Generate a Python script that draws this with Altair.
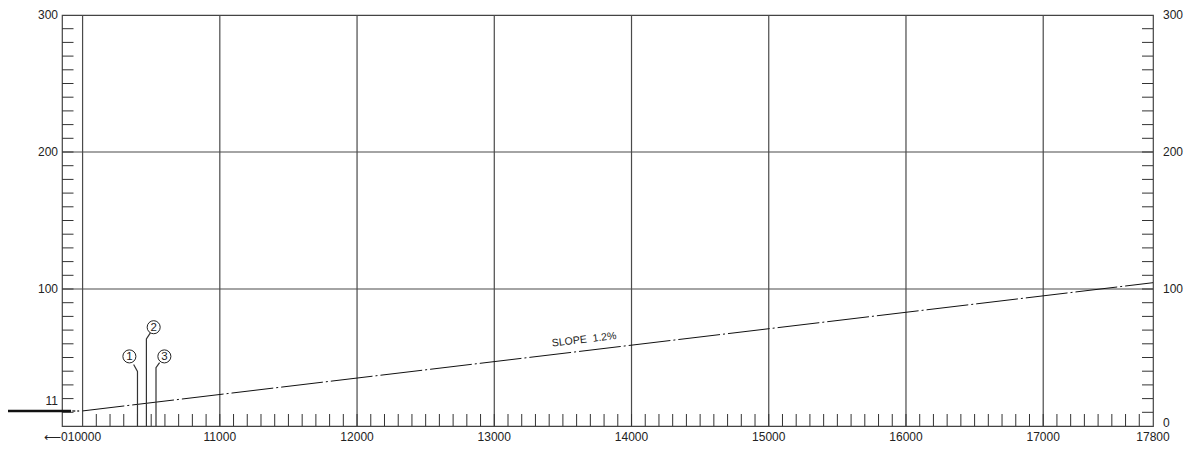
import altair as alt
import pandas as pd

# ---- data ----
x_grid = [10000, 11000, 12000, 13000, 14000, 15000, 16000, 17000]
x_label_values = [11000, 12000, 13000, 14000, 15000, 16000, 17000, 17800]
x_labels = ["11000", "12000", "13000", "14000", "15000", "16000", "17000", "17800"]
x_first_value = [10000]
x_first_label = ["⟵010000"]
x_minor = list(range(10100, 17800, 100))

y_grid = [100, 200]
y_minor = list(range(10, 300, 10))
y_left_values = [100, 200, 300]
y_right_values = [100, 200, 300]
y_right_zero = [0]

# design profile: slope 1.2 % from chainage 10000 (elevation 11)
slope_x = [10000, 17800]
slope_y = [11, 104.6]
exist_x = [9440, 9916]
exist_y = [11, 11]
stub_x = [9925, 9975]
stub_y = [11, 11]
start_elev_label = ["11"]
start_elev_value = [11]

# callouts 1-3 with leader lines
callout_id = ["1", "2", "3"]
callout_x = [10341, 10518, 10596]
callout_y = [50.8, 72.1, 50.8]
leader_id = ["1", "1", "1", "2", "2", "2", "3", "3", "3"]
leader_order = [0, 1, 2, 0, 1, 2, 0, 1, 2]
leader_x = [10372, 10400, 10400, 10494, 10465, 10465, 10561, 10535, 10535]
leader_y = [44.9, 39.8, 0, 68.0, 63.6, 0, 46.2, 42.5, 0]

slope_label = ["SLOPE\u00a0\u00a01.2%"]
slope_label_x = [13655]
slope_label_y = [63.0]

# ---- chart ----
W, H = 1091, 411
FONT = "Liberation Sans"
GRID = "#4a4a4a"
INK = "#222222"

xs = alt.Scale(domain=[9850, 17800], nice=False, zero=False)
ys = alt.Scale(domain=[0, 300], nice=False, zero=False)


def X(f):
    return alt.X(f, type="quantitative", scale=xs, axis=None)


def Y(f):
    return alt.Y(f, type="quantitative", scale=ys, axis=None)


vgrid = alt.Chart(pd.DataFrame({"x": x_grid})).mark_rule(
    color=GRID, strokeWidth=1.2).encode(x=X("x"))
hgrid = alt.Chart(pd.DataFrame({"y": y_grid})).mark_rule(
    color=GRID, strokeWidth=1.2).encode(y=Y("y"))

bottom_ticks = alt.Chart(pd.DataFrame({"x": x_minor})).mark_rule(
    color="#333", strokeWidth=1).encode(x=X("x"), y=alt.value(H - 12), y2=alt.value(H))
left_ticks = alt.Chart(pd.DataFrame({"y": y_minor})).mark_rule(
    color="#333", strokeWidth=1).encode(y=Y("y"), x=alt.value(0), x2=alt.value(11.5))
right_ticks = alt.Chart(pd.DataFrame({"y": y_minor})).mark_rule(
    color="#333", strokeWidth=1).encode(y=Y("y"), x=alt.value(W - 11), x2=alt.value(W))

slope = alt.Chart(pd.DataFrame({"x": slope_x, "y": slope_y})).mark_line(
    color="#111", strokeWidth=1, strokeDash=[42, 3, 2, 3]).encode(x=X("x"), y=Y("y"))
exist = alt.Chart(pd.DataFrame({"x": exist_x, "y": exist_y})).mark_line(
    color="#111", strokeWidth=2.5, clip=False).encode(x=X("x"), y=Y("y"))
stub = alt.Chart(pd.DataFrame({"x": stub_x, "y": stub_y})).mark_line(
    color="#666", strokeWidth=2, strokeDash=[3, 2]).encode(x=X("x"), y=Y("y"))

leaders = alt.Chart(pd.DataFrame({"id": leader_id, "o": leader_order,
                                  "x": leader_x, "y": leader_y})).mark_line(
    color="#333", strokeWidth=1.2).encode(x=X("x"), y=Y("y"), detail="id:N",
                                          order="o:Q")
circles = alt.Chart(pd.DataFrame({"id": callout_id, "x": callout_x, "y": callout_y})).mark_point(
    shape="circle", size=170, filled=True, fill="white", stroke="#222",
    strokeWidth=1, opacity=1).encode(x=X("x"), y=Y("y"))
circle_text = alt.Chart(pd.DataFrame({"id": callout_id, "x": callout_x, "y": callout_y})).mark_text(
    font=FONT, fontSize=11.5, color=INK, align="center", baseline="middle", dy=0.5).encode(
    x=X("x"), y=Y("y"), text="id:N")

slope_text = alt.Chart(pd.DataFrame({"t": slope_label, "x": slope_label_x, "y": slope_label_y})).mark_text(
    font=FONT, fontSize=10.5, color=INK, angle=353.2, align="center", baseline="middle").encode(
    x=X("x"), y=Y("y"), text="t:N")

elev_text = alt.Chart(pd.DataFrame({"t": start_elev_label, "y": start_elev_value})).mark_text(
    font=FONT, fontSize=12, color=INK, align="right", baseline="bottom", dy=-3).encode(
    x=alt.value(-4), y=Y("y"), text="t:N")

x_text = alt.Chart(pd.DataFrame({"t": x_labels, "x": x_label_values})).mark_text(
    font=FONT, fontSize=12, color=INK, align="center", baseline="middle").encode(
    x=X("x"), y=alt.value(H + 10.5), text="t:N")
x_first = alt.Chart(pd.DataFrame({"t": x_first_label, "x": x_first_value})).mark_text(
    font=FONT, fontSize=12, color=INK, align="center", baseline="middle", dx=-10).encode(
    x=X("x"), y=alt.value(H + 10.5), text="t:N")

yl_text = alt.Chart(pd.DataFrame({"y": y_left_values})).mark_text(
    font=FONT, fontSize=12, color=INK, align="right", baseline="middle").encode(
    x=alt.value(-4), y=Y("y"), text=alt.Text("y:Q", format="d"))
yr_text = alt.Chart(pd.DataFrame({"y": y_right_values})).mark_text(
    font=FONT, fontSize=12, color=INK, align="left", baseline="middle").encode(
    x=alt.value(W + 10), y=Y("y"), text=alt.Text("y:Q", format="d"))
yr_zero = alt.Chart(pd.DataFrame({"y": y_right_zero})).mark_text(
    font=FONT, fontSize=12, color=INK, align="left", baseline="middle", dy=-3).encode(
    x=alt.value(W + 10), y=Y("y"), text=alt.Text("y:Q", format="d"))

chart = alt.layer(
    vgrid, hgrid, bottom_ticks, left_ticks, right_ticks,
    slope, exist, stub, leaders, circles, circle_text,
    slope_text, elev_text, x_text, x_first, yl_text, yr_text, yr_zero,
).properties(
    width=W, height=H,
    padding={"left": 54, "top": 7, "right": 31, "bottom": 17},
    autosize="none",
    background="white",
).configure_view(stroke="#444", strokeWidth=1.2)

chart.save("out.html", embed_options={"renderer": "svg", "actions": False})
